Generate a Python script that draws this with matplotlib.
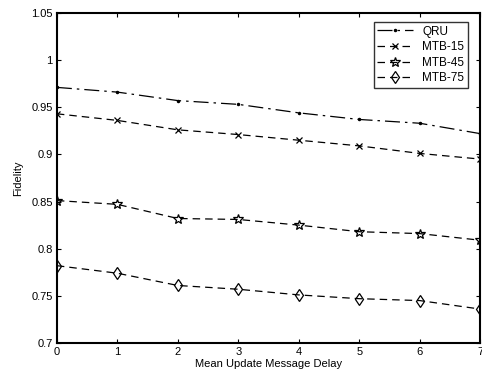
import matplotlib
matplotlib.use("Agg")
from matplotlib import pyplot as plt

plt.rcParams['font.family'] = ['Liberation Sans', 'DejaVu Sans']

delay = [0, 1, 2, 3, 4, 5, 6, 7]
qru = [0.971, 0.966, 0.957, 0.953, 0.944, 0.937, 0.933, 0.922]
mtb15 = [0.943, 0.936, 0.926, 0.921, 0.915, 0.909, 0.901, 0.895]
mtb45 = [0.851, 0.847, 0.832, 0.831, 0.825, 0.818, 0.816, 0.809]
mtb75 = [0.782, 0.774, 0.761, 0.757, 0.751, 0.747, 0.745, 0.736]

yticks = [0.7, 0.75, 0.8, 0.85, 0.9, 0.95, 1.0, 1.05]
ytick_labels = ['0.7', '0.75', '0.8', '0.85', '0.9', '0.95', '1', '1.05']

fig = plt.figure(figsize=(4.82, 3.83), dpi=100)
ax = fig.add_axes([0.118, 0.1044, 0.878, 0.862])

ax.plot(delay, qru, color='black', lw=0.9, linestyle=(0, (12, 4, 2, 4)),
        marker='.', markersize=3, label='QRU')
ax.plot(delay, mtb15, color='black', lw=0.9, linestyle=(0, (6, 4)),
        marker='x', markersize=4, markeredgewidth=0.9, label='MTB-15')
ax.plot(delay, mtb45, color='black', lw=0.9, linestyle=(0, (6, 4)),
        marker='*', markersize=7, markerfacecolor='none', markeredgewidth=0.9,
        label='MTB-45')
ax.plot(delay, mtb75, color='black', lw=0.9, linestyle=(0, (6, 4)),
        marker='d', markersize=6, markerfacecolor='none', markeredgewidth=0.9,
        label='MTB-75')

ax.set_xlim(0, 7)
ax.set_ylim(0.7, 1.05)
ax.set_xticks(delay)
ax.set_yticks(yticks)
ax.set_yticklabels(ytick_labels)
ax.tick_params(direction='in', length=3, width=0.8, labelsize=8,
               top=True, right=True, pad=3)
for s in ax.spines.values():
    s.set_linewidth(1.5)

ax.set_xlabel('Mean Update Message Delay', fontsize=8, labelpad=1)
ax.set_ylabel('Fidelity', fontsize=8, labelpad=6)

leg = ax.legend(loc='upper right', bbox_to_anchor=(0.985, 0.99), fontsize=8.5,
                frameon=True, fancybox=False, edgecolor='black',
                handlelength=3, borderpad=0.3, labelspacing=0.3)
leg.get_frame().set_linewidth(1.0)

fig.savefig('out.png', dpi=100)
